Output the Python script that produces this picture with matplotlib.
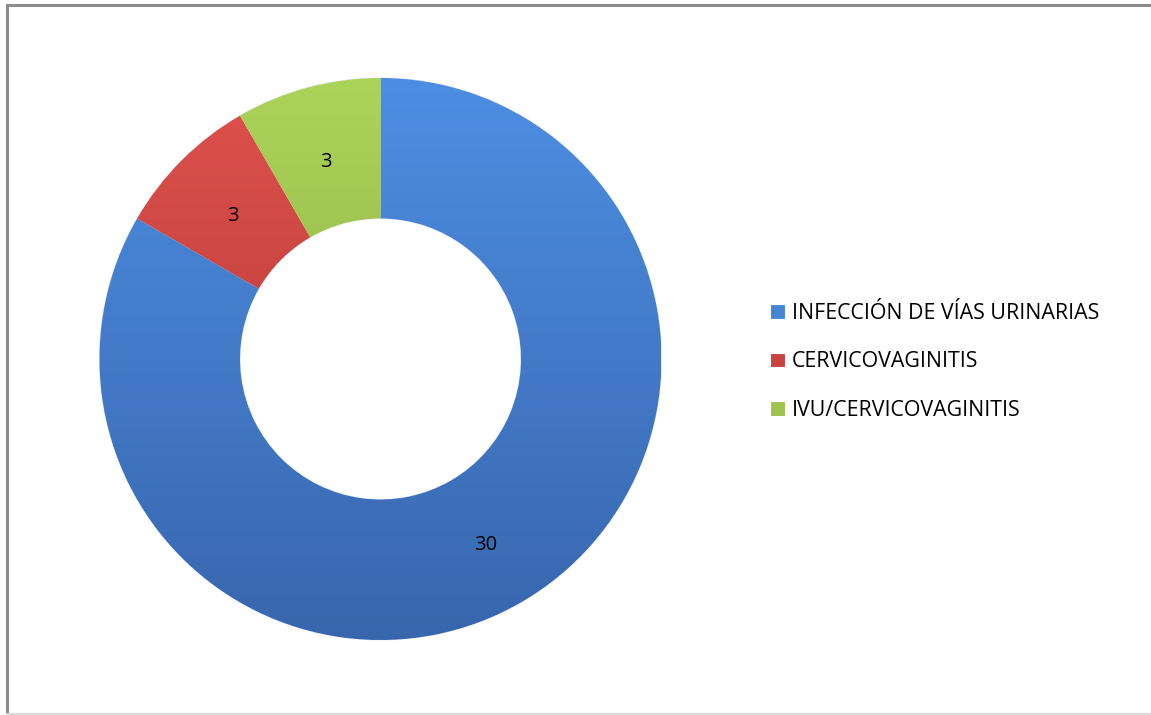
import numpy as np
import matplotlib.pyplot as plt
from matplotlib.colors import LinearSegmentedColormap
from matplotlib.patches import Rectangle

# Datos del gráfico de dona
categorias = ['INFECCIÓN DE VÍAS URINARIAS', 'CERVICOVAGINITIS', 'IVU/CERVICOVAGINITIS']
valores = [30, 3, 3]
colores = ['#4684d6', '#cc423e', '#9ec44e']
# tonos claro (arriba) y oscuro (abajo) para el degradado de cada sector
claros = ['#4d8ee2', '#e0514c', '#acd35a']
oscuros = ['#3866ad', '#a83431', '#82a53b']

W, H = 1151, 715
fig = plt.figure(figsize=(W / 100, H / 100), dpi=100)
ax = fig.add_axes([0, 0, 1, 1])

# marco del área del gráfico
ax.add_patch(Rectangle((7.5, 1.5), 1160, 708.5, fill=False, edgecolor='#8c8c8c', linewidth=2.2))
ax.plot([7.5, W], [1.2, 1.2], color='#d9d9d9', linewidth=1.5)

cx, cy, R = 380.5, H - 359, 281
wedges, textos, autotextos = ax.pie(
    valores, colors=colores, startangle=90, counterclock=False,
    center=(cx, cy), radius=R, frame=True,
    wedgeprops=dict(width=R * 0.5, edgecolor='#e8eef8', linewidth=0.8),
    autopct=lambda p: '{:.0f}'.format(p * sum(valores) / 100),
    pctdistance=0.745, textprops=dict(fontsize=14.5, family='Open Sans', color='black'))
ax.set_xlim(0, W)
ax.set_ylim(0, H)
ax.axis('off')

# degradado vertical recortado a cada sector
for w, c1, c2 in zip(wedges, claros, oscuros):
    cmap = LinearSegmentedColormap.from_list('g', [c2, c1])
    grad = np.linspace(0, 1, 256).reshape(-1, 1)
    im = ax.imshow(grad, cmap=cmap, origin='lower', aspect='auto',
                   extent=(cx - R, cx + R, cy - R, cy + R), zorder=w.get_zorder() + 0.1)
    im.set_clip_path(w)
for t in autotextos:
    t.set_zorder(5)
    x, y = t.get_position()
    t.set_position((x, y - 5))

leg = ax.legend(wedges, categorias, loc='center left', bbox_to_anchor=(751 / W, 1 - 362 / H),
                frameon=False, handlelength=0.7, handleheight=0.7, handletextpad=0.3,
                labelspacing=1.3, prop=dict(family='Open Sans', size=15.4))
for h, c in zip(leg.legend_handles, colores):
    h.set_facecolor(c)
    h.set_edgecolor('#ffffff')

fig.savefig('out.png', dpi=100)
